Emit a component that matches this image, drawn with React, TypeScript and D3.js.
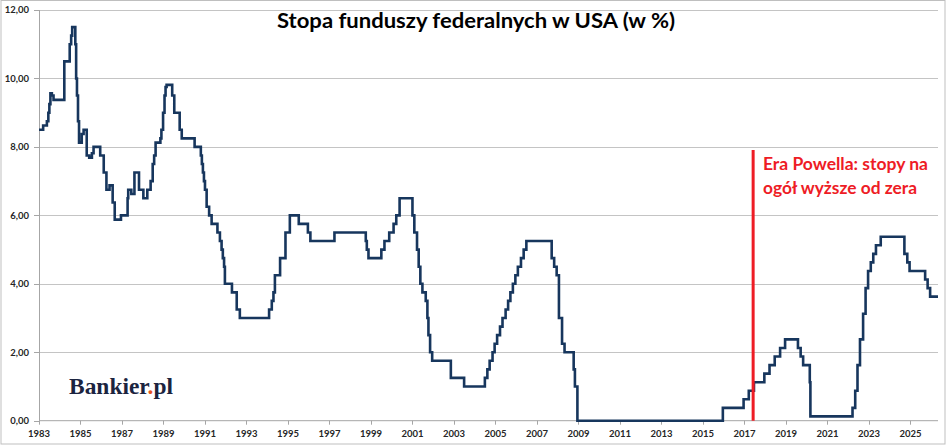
import React from "react";
import * as d3 from "d3";

// Fed funds target rate (midpoint of range after 2008), change points as decimal years
const changeYears: number[] = [
  1983.0, 1983.2, 1983.38, 1983.45, 1983.5, 1983.55, 1983.62, 1983.7,
  1984.22, 1984.48, 1984.55, 1984.6, 1984.75, 1984.79, 1984.83, 1984.88, 1984.93,
  1985.06, 1985.15, 1985.3, 1985.42, 1985.55, 1985.63, 1985.95,
  1986.12, 1986.25, 1986.4, 1986.55, 1986.65, 1986.95,
  1987.27, 1987.3, 1987.45, 1987.6, 1987.82,
  1988.03, 1988.2, 1988.22, 1988.38, 1988.48, 1988.55, 1988.62, 1988.85, 1988.9, 1988.98,
  1989.05, 1989.1, 1989.15, 1989.42, 1989.52, 1989.78, 1989.88,
  1990.5, 1990.8, 1990.85, 1990.9, 1990.95,
  1991.0, 1991.08, 1991.2, 1991.32, 1991.6, 1991.72, 1991.8, 1991.86, 1991.92, 1991.96,
  1992.3, 1992.53, 1992.68,
  1994.09, 1994.22, 1994.3, 1994.37, 1994.62, 1994.88,
  1995.09, 1995.52, 1995.96, 1996.08, 1997.24,
  1998.75, 1998.8, 1998.88, 1999.5, 1999.65, 1999.88,
  2000.09, 2000.22, 2000.38,
  2001.0, 2001.09, 2001.22, 2001.3, 2001.38, 2001.48, 2001.64, 2001.72, 2001.77, 2001.85, 2001.95,
  2002.85, 2003.49,
  2004.49, 2004.61, 2004.72, 2004.86, 2004.96,
  2005.08, 2005.22, 2005.34, 2005.49, 2005.61, 2005.72, 2005.84, 2005.96,
  2006.08, 2006.23, 2006.36, 2006.49,
  2007.71, 2007.83, 2007.95,
  2008.06, 2008.21, 2008.33, 2008.77, 2008.83, 2008.95,
  2015.96, 2016.96, 2017.21, 2017.46, 2017.96,
  2018.21, 2018.46, 2018.72, 2018.96,
  2019.58, 2019.71, 2019.83,
  2020.15, 2020.18,
  2022.21, 2022.34, 2022.45, 2022.57, 2022.72, 2022.84, 2022.96,
  2023.09, 2023.21, 2023.34, 2023.57,
  2024.71, 2024.85, 2024.96,
  2025.71, 2025.83, 2025.95,
  2026.33,
];

const rateValues: number[] = [
  8.5, 8.625, 8.75, 9.0, 9.25, 9.5625, 9.5, 9.375,
  10.5, 11.0, 11.25, 11.5, 11.0, 10.0, 9.5, 8.75, 8.125,
  8.375, 8.5, 7.75, 7.6875, 7.8125, 8.0, 7.75,
  7.25, 6.75, 6.875, 6.375, 5.875, 6.0,
  6.5, 6.75, 6.625, 7.25, 6.75,
  6.5, 6.5, 6.75, 7.0, 7.5, 7.75, 8.125, 8.25, 8.5, 9.0,
  9.5, 9.75, 9.8125, 9.5, 9.0, 8.5, 8.25,
  8.0, 7.75, 7.5, 7.25, 7.0,
  6.75, 6.25, 6.0, 5.75, 5.5, 5.25, 5.0, 4.75, 4.5, 4.0,
  3.75, 3.25, 3.0,
  3.25, 3.5, 3.75, 4.25, 4.75, 5.5,
  6.0, 5.75, 5.5, 5.25, 5.5,
  5.25, 5.0, 4.75, 5.0, 5.25, 5.5,
  5.75, 6.0, 6.5,
  6.0, 5.5, 5.0, 4.5, 4.0, 3.75, 3.5, 3.0, 2.5, 2.0, 1.75,
  1.25, 1.0,
  1.25, 1.5, 1.75, 2.0, 2.25,
  2.5, 2.75, 3.0, 3.25, 3.5, 3.75, 4.0, 4.25,
  4.5, 4.75, 5.0, 5.25,
  4.75, 4.5, 4.25,
  3.0, 2.25, 2.0, 1.5, 1.0, 0.0,
  0.375, 0.625, 0.875, 1.125, 1.375,
  1.625, 1.875, 2.125, 2.375,
  2.125, 1.875, 1.625,
  1.125, 0.125,
  0.375, 0.875, 1.625, 2.375, 3.125, 3.875, 4.375,
  4.625, 4.875, 5.125, 5.375,
  4.875, 4.625, 4.375,
  4.125, 3.875, 3.625,
  3.625,
];

const xTickYears: number[] = [
  1983, 1985, 1987, 1989, 1991, 1993, 1995, 1997, 1999, 2001, 2003,
  2005, 2007, 2009, 2011, 2013, 2015, 2017, 2019, 2021, 2023, 2025,
];
const yTicks: number[] = [0, 2, 4, 6, 8, 10, 12];

const titleText = "Stopa funduszy federalnych w USA (w %)";
const noteLines: string[] = ["Era Powella: stopy na", "ogół wyższe od zera"];
const powellYear = 2017.42;

const W = 948;
const H = 446;
const plotLeft = 39;
const plotRight = 938;
const plotTop = 10;
const plotBottom = 420.7;

export default function App() {
  const x = d3.scaleLinear().domain([1983, 2026.33]).range([plotLeft, plotRight]);
  const y = d3.scaleLinear().domain([0, 12]).range([plotBottom, plotTop]);

  const pts: [number, number][] = changeYears.map((yr, i) => [yr, rateValues[i]]);
  const line = d3
    .line<[number, number]>()
    .x((d) => x(d[0]))
    .y((d) => y(d[1]))
    .curve(d3.curveStepAfter);

  const axisFont = "Lato, 'Open Sans', sans-serif";

  return (
    <svg
      width={W}
      height={H}
      style={{ position: "fixed", left: 0, top: 0, background: "#fff" }}
      xmlns="http://www.w3.org/2000/svg"
    >
      <rect x={0} y={0} width={W} height={H} fill="#fff" />
      <rect x={1} y={0.5} width={944} height={443.5} fill="none" stroke="#BFBFBF" strokeWidth={1} />

      {/* gridlines */}
      {yTicks.filter((t) => t > 0).map((t) => (
        <line
          key={"g" + t}
          x1={plotLeft}
          x2={plotRight}
          y1={Math.round(y(t)) + 0.5}
          y2={Math.round(y(t)) + 0.5}
          stroke="#C4C4C4"
          strokeWidth={1}
        />
      ))}

      {/* axes */}
      <line x1={plotLeft + 0.5} x2={plotLeft + 0.5} y1={plotTop} y2={plotBottom} stroke="#A6A6A6" strokeWidth={1} />
      <line x1={plotLeft} x2={plotRight} y1={plotBottom} y2={plotBottom} stroke="#A6A6A6" strokeWidth={1} />
      {yTicks.map((t) => (
        <g key={"y" + t}>
          <line x1={plotLeft - 5} x2={plotLeft} y1={Math.round(y(t)) + 0.5} y2={Math.round(y(t)) + 0.5} stroke="#A6A6A6" />
          <text
            x={29}
            y={y(t)}
            dy="0.35em"
            textAnchor="end"
            fontFamily={axisFont}
            fontWeight={700}
            fontSize={9.5}
            fill="#262626"
          >
            {d3.format(".2f")(t).replace(".", ",")}
          </text>
        </g>
      ))}
      {xTickYears.map((yr) => (
        <g key={"x" + yr}>
          <line x1={Math.round(x(yr)) + 0.5} x2={Math.round(x(yr)) + 0.5} y1={plotBottom} y2={plotBottom + 4} stroke="#A6A6A6" />
          <text
            x={x(yr)}
            y={436.5}
            textAnchor="middle"
            fontFamily={axisFont}
            fontWeight={700}
            fontSize={9.5}
            fill="#262626"
          >
            {yr}
          </text>
        </g>
      ))}

      {/* series */}
      <path
        d={line(pts) || ""}
        fill="none"
        stroke="#17365D"
        strokeWidth={2.6}
        strokeLinejoin="miter"
      />

      {/* Powell line */}
      <line x1={x(powellYear)} x2={x(powellYear)} y1={150} y2={plotBottom} stroke="#EE1C25" strokeWidth={3} />
      {noteLines.map((s, i) => (
        <text
          key={s}
          x={763}
          y={170 + i * 23.5}
          fontFamily={axisFont}
          fontWeight={700}
          fontSize={16.5}
          fill="#EE1C25"
          textLength={i === 0 ? 165 : 154}
          lengthAdjust="spacingAndGlyphs"
        >
          {s}
        </text>
      ))}

      {/* title */}
      <text
        x={476}
        y={27.5}
        textAnchor="middle"
        fontFamily={axisFont}
        fontWeight={700}
        fontSize={20.5}
        fill="#000"
        textLength={398}
        lengthAdjust="spacingAndGlyphs"
      >
        {titleText}
      </text>

      {/* logo */}
      <text
        x={69}
        y={394}
        fontFamily="'Liberation Serif', 'DejaVu Serif', serif"
        fontWeight={700}
        fontSize={23}
        fill="#1B2440"
        textLength={104}
        lengthAdjust="spacingAndGlyphs"
      >
        Bankier<tspan fill="#E8541E">.</tspan>pl
      </text>
    </svg>
  );
}
